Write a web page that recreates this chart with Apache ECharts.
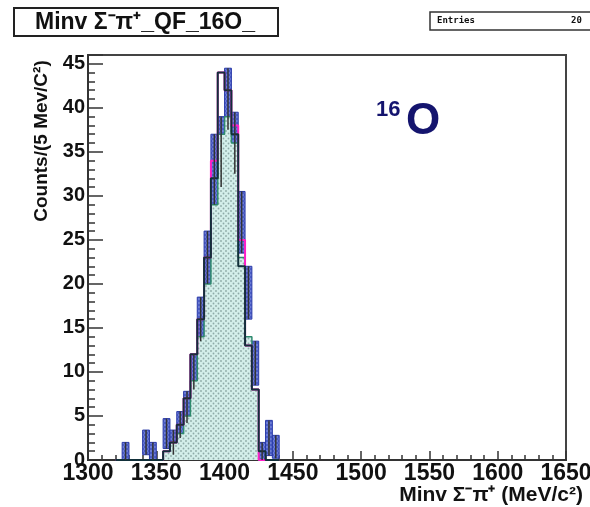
<!DOCTYPE html>
<html><head><meta charset="utf-8">
<script src="https://cdn.jsdelivr.net/npm/echarts@6/dist/echarts.min.js"></script>
<style>html,body{margin:0;padding:0;background:#fff}#c{width:590px;height:507px}</style>
</head><body><div id="c"></div>
<script>
// ---- data ----
const binLow = [1320,1325,1330,1335,1340,1345,1350,1355,1360,1365,1370,1375,1380,1385,1390,1395,1400,1405,1410,1415,1420,1425,1430,1435];
const binWidth = 5;
const simFill    = [0,0,0,0,0,0,0,1,2,3,5,9,14,20,29,37,39,36,23,14,8,0,0,0];
const simLine    = [0,0,0,0,0,0,0,1,2,4,7,12,16,23,32,44,42,37,22,13,8,1,0,0];
const magentaSim = [0,0,0,0,0,0,0,1,2,4,7,12,16,23,34,44,42,38,25,13,8,0,0,0];
const dataCounts = [0,1,0,0,2,1,0,3,2,4,6,10,16,23,33,35,41,36,27,19,11,1,2.5,1.5];
const dataErr    = [0,1,0,0,1.4,1,0,1.7,1.4,1.5,1.8,2,2.5,3,4,4,3.5,3.5,3.5,3,2.5,1,2,1.3];
const xTickLabels = ['1300','1350','1400','1450','1500','1550','1600','1650'];
const yTickLabels = ['0','5','10','15','20','25','30','35','40','45'];

// ---- helpers ----
function stepPoints(vals){
  const pts=[[binLow[0],0]];
  vals.forEach((v,i)=>pts.push([binLow[i],v]));
  pts.push([binLow[binLow.length-1]+binWidth,0]);
  return pts;
}
function makePattern(bg, dot, size, r){
  const c=document.createElement('canvas'); c.width=size; c.height=size;
  const g=c.getContext('2d'); g.fillStyle=bg; g.fillRect(0,0,size,size);
  g.fillStyle=dot;
  g.beginPath(); g.arc(1,1,r,0,Math.PI*2); g.fill();
  g.beginPath(); g.arc(1+size/2,1+size/2,r,0,Math.PI*2); g.fill();
  return c;
}
const fillPat = makePattern('#d3eeea','#8eaaa8',5,0.9);
const bluePat = makePattern('#4a5cc6','#98a6ea',4,0.8);

const chart = echarts.init(document.getElementById('c'));
const FONT = '"Liberation Sans", Arial, sans-serif';
chart.setOption({
  animation:false,
  backgroundColor:'#fff',
  grid:{left:88,right:24,top:55,bottom:47,outerBoundsMode:'none',containLabel:false,
    show:true,borderColor:'#444',borderWidth:2,backgroundColor:'transparent'},
  xAxis:{type:'value',min:1300,max:1650,interval:50,
    axisLine:{lineStyle:{color:'#333',width:2}},
    axisTick:{inside:true,length:9,lineStyle:{color:'#333',width:1.5}},
    minorTick:{show:true,splitNumber:5,length:5,lineStyle:{color:'#333',width:1.5}},
    splitLine:{show:false},
    axisLabel:{color:'#111',fontWeight:'bold',fontSize:23,fontFamily:FONT,margin:2,
      formatter:v=>{const s=String(v);return xTickLabels.includes(s)?s:'';}}
  },
  yAxis:[
    {type:'value',min:0,max:46,interval:1,position:'left',
      axisLine:{lineStyle:{color:'#333',width:2}},
      axisTick:{inside:true,length:7,lineStyle:{color:'#333',width:1.5}},
      splitLine:{show:false},
      axisLabel:{color:'#111',fontWeight:'bold',fontSize:20,fontFamily:FONT,margin:3,
        formatter:v=>{const s=String(v);return yTickLabels.includes(s)?s:'';}}
    },
    {type:'value',min:0,max:46,interval:5,position:'left',
      axisLine:{show:false},
      axisTick:{inside:true,length:15,lineStyle:{color:'#333',width:1.5}},
      splitLine:{show:false},axisLabel:{show:false}
    }
  ],
  series:[
    {type:'custom',name:'data boxes',z:1,
      renderItem:(p,api)=>{
        const lo=api.value(0),hi=api.value(1),v=api.value(2),e=api.value(3);
        const a=api.coord([lo,v+e]),b=api.coord([hi,Math.max(0,v-e)]);
        return {type:'rect',shape:{x:a[0],y:a[1],width:b[0]-a[0],height:b[1]-a[1]},
          style:{fill:{image:bluePat,repeat:'repeat'},stroke:'#2a3aa8',lineWidth:1}};
      },
      encode:{x:[0,1],y:[2]},
      data:binLow.map((lo,i)=>[lo,lo+binWidth,dataCounts[i],dataErr[i]]).filter(d=>d[2]>0)
    },
    {type:'line',name:'sim fill',z:2,step:'end',symbol:'none',
      lineStyle:{color:'#2e8b6e',width:1.5},
      areaStyle:{color:{image:fillPat,repeat:'repeat'},opacity:1},
      data:stepPoints(simFill)},
    {type:'line',name:'magenta',z:3,step:'end',symbol:'none',
      lineStyle:{color:'#ff1fc8',width:2},data:stepPoints(magentaSim)},
    {type:'line',name:'sim line',z:4,step:'end',symbol:'none',
      lineStyle:{color:'#12303a',width:2},data:stepPoints(simLine)},
    {type:'custom',name:'error bars',z:5,
      renderItem:(p,api)=>{
        const lo=api.value(0),hi=api.value(1),v=api.value(2),e=api.value(3);
        const a=api.coord([(lo+hi)/2,v+e]),b=api.coord([(lo+hi)/2,Math.max(0,v-e)]);
        return {type:'line',shape:{x1:a[0],y1:a[1],x2:b[0],y2:b[1]},style:{stroke:'#333',lineWidth:1.5}};
      },
      encode:{x:[0,1],y:[2]},
      data:binLow.map((lo,i)=>[lo,lo+binWidth,dataCounts[i],dataErr[i]]).filter(d=>d[2]>0)
    }
  ],
  graphic:[
    {type:'rect',shape:{x:14,y:8,width:264,height:28},style:{fill:'#fff',stroke:'#222',lineWidth:2}},
    {type:'text',x:145,y:23,style:{text:'Minv Σ⁻π⁺_QF_16O_',font:'bold 23px '+FONT,fill:'#111',
      textAlign:'center',textVerticalAlign:'middle',align:'center',verticalAlign:'middle'}},
    {type:'rect',shape:{x:430,y:12,width:175,height:18},style:{fill:'#fff',stroke:'#333',lineWidth:1.5}},
    {type:'text',x:437,y:21,style:{text:'Entries',font:'bold 9px "DejaVu Sans Mono", monospace',fill:'#111',
      textVerticalAlign:'middle',verticalAlign:'middle'}},
    {type:'text',x:571,y:21,style:{text:'20',font:'bold 9px "DejaVu Sans Mono", monospace',fill:'#111',
      textVerticalAlign:'middle',verticalAlign:'middle'}},
    {type:'text',x:376,y:110,style:{text:'16',font:'bold 22px '+FONT,fill:'#14146e',
      textVerticalAlign:'middle',verticalAlign:'middle'}},
    {type:'text',x:406,y:122,style:{text:'O',font:'bold 44px '+FONT,fill:'#14146e',
      textVerticalAlign:'middle',verticalAlign:'middle'}},
    {type:'text',x:42,y:141,rotation:Math.PI/2,style:{text:'Counts/(5 Mev/C²)',font:'bold 19px '+FONT,fill:'#111',
      textAlign:'center',textVerticalAlign:'middle',align:'center',verticalAlign:'middle'}},
    {type:'text',x:583,y:495,style:{text:'Minv Σ⁻π⁺ (MeV/c²)',font:'bold 21px '+FONT,fill:'#111',
      textAlign:'right',textVerticalAlign:'middle',align:'right',verticalAlign:'middle'}}
  ]
});
</script></body></html>
